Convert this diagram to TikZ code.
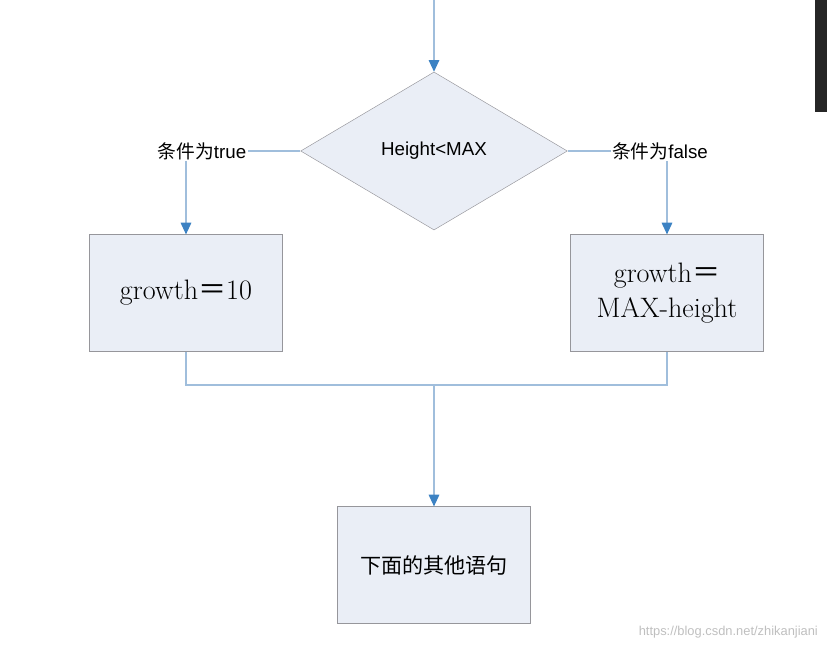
\documentclass[tikz,border=0pt]{standalone}
\usepackage{fontspec}
\setmainfont{Liberation Sans}
\newfontfamily\cjk{Noto Sans CJK SC}
\newfontfamily\lmr{Latin Modern Roman}
\usetikzlibrary{arrows.meta,positioning,shapes.geometric}
\definecolor{boxfill}{RGB}{234,238,246}
\definecolor{boxline}{RGB}{150,150,155}
\definecolor{flowline}{RGB}{160,190,220}
\definecolor{tipblue}{RGB}{60,130,195}
\tikzset{%
	block/.style    = {draw=boxline, fill=boxfill, rectangle, minimum width=5.8cm, minimum height=3.5cm, align=center},
	decision/.style = {draw=boxline, fill=boxfill, diamond, minimum width=8cm, minimum height=4.74cm, inner sep=0pt},
	label/.style    = {fill=white, inner sep=1pt, font=\cjk\fontsize{16}{18}\selectfont},
	arrow/.style    = {flowline, line width=1.2pt, -{Triangle[length=10pt,width=9pt,color=tipblue]}},
	line/.style     = {flowline, line width=1.2pt},
}
\begin{document}
\begin{tikzpicture}[x=0.03cm,y=-0.03cm]
	\useasboundingbox (0,0) rectangle (827,647);
	\fill[black!85] (815,0) rectangle (827,112);
	% nodes
	\coordinate (top) at (434,0);
	\node[decision] (cond) at (434,151) {\fontsize{16}{20}\selectfont Height<MAX};
	\node[label] (yes) at (202,151) {条件为\fontspec{Liberation Sans}true};
	\node[label] (no) at (660,151) {条件为\fontspec{Liberation Sans}false};
	\node[block, font=\lmr\fontsize{24}{28}\selectfont] (grow1) at (186,293) {growth{\cjk ＝}10};
	\node[block, font=\lmr\fontsize{24}{30}\selectfont] (grow2) at (667,293) {growth{\cjk ＝}\\MAX-height};
	\node[block] (rest) at (434,565) {\cjk\fontsize{18}{20}\selectfont 下面的其他语句};
	\coordinate (join) at (434,385);
	\node[text=black!25, anchor=south east, font=\fontsize{11}{13}\selectfont] (url) at (822,642) {https://blog.csdn.net/zhikanjiani};
	% connectors
	\draw[arrow] (top) -- (cond.north);
	\draw[line] (cond.west) -- (yes.east);
	\draw[line] (cond.east) -- (no.west);
	\draw[arrow] (yes.south -| grow1.north) -- (grow1.north);
	\draw[arrow] (no.south -| grow2.north) -- (grow2.north);
	\draw[line] (grow1.south) |- (join) -| (grow2.south);
	\draw[arrow] (join) -- (rest.north);
\end{tikzpicture}
\end{document}
